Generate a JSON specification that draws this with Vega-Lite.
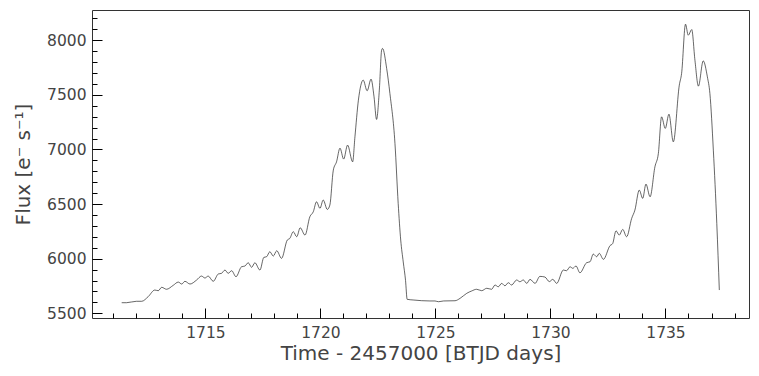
{
  "$schema": "https://vega.github.io/schema/vega-lite/v6.json",
  "width": 657,
  "height": 308,
  "autosize": "none",
  "padding": {"left": 92, "top": 10, "right": 10, "bottom": 58},
  "background": "white",
  "config": {
    "font": "DejaVu Sans",
    "view": {"stroke": "#333333", "strokeWidth": 1}
  },
  "data": {
    "values": [
      {"t": 1711.36, "f": 5597}, {"t": 1711.57, "f": 5597}, {"t": 1712.00, "f": 5610}, {"t": 1712.23, "f": 5610},
      {"t": 1712.51, "f": 5652}, {"t": 1712.80, "f": 5713}, {"t": 1712.95, "f": 5707}, {"t": 1713.10, "f": 5738},
      {"t": 1713.31, "f": 5720}, {"t": 1713.60, "f": 5756}, {"t": 1713.82, "f": 5786}, {"t": 1713.97, "f": 5768},
      {"t": 1714.11, "f": 5793}, {"t": 1714.33, "f": 5768}, {"t": 1714.62, "f": 5805}, {"t": 1714.83, "f": 5841},
      {"t": 1714.98, "f": 5823}, {"t": 1715.12, "f": 5841}, {"t": 1715.34, "f": 5793}, {"t": 1715.56, "f": 5860},
      {"t": 1715.70, "f": 5866}, {"t": 1715.85, "f": 5896}, {"t": 1715.99, "f": 5866}, {"t": 1716.14, "f": 5890},
      {"t": 1716.33, "f": 5835}, {"t": 1716.57, "f": 5926}, {"t": 1716.72, "f": 5933}, {"t": 1716.86, "f": 5963},
      {"t": 1717.01, "f": 5921}, {"t": 1717.15, "f": 5963}, {"t": 1717.37, "f": 5896}, {"t": 1717.54, "f": 6012},
      {"t": 1717.66, "f": 6018}, {"t": 1717.80, "f": 6064}, {"t": 1717.95, "f": 6024}, {"t": 1718.10, "f": 6073},
      {"t": 1718.31, "f": 6003}, {"t": 1718.56, "f": 6171}, {"t": 1718.67, "f": 6186}, {"t": 1718.82, "f": 6247},
      {"t": 1718.97, "f": 6201}, {"t": 1719.12, "f": 6283}, {"t": 1719.33, "f": 6216}, {"t": 1719.54, "f": 6384},
      {"t": 1719.69, "f": 6430}, {"t": 1719.83, "f": 6521}, {"t": 1719.98, "f": 6461}, {"t": 1720.12, "f": 6537},
      {"t": 1720.30, "f": 6451}, {"t": 1720.41, "f": 6491}, {"t": 1720.56, "f": 6811}, {"t": 1720.70, "f": 6887},
      {"t": 1720.85, "f": 7012}, {"t": 1721.01, "f": 6912}, {"t": 1721.18, "f": 7040}, {"t": 1721.40, "f": 6887},
      {"t": 1721.50, "f": 7116}, {"t": 1721.65, "f": 7451}, {"t": 1721.86, "f": 7635}, {"t": 1722.03, "f": 7537},
      {"t": 1722.20, "f": 7644}, {"t": 1722.33, "f": 7482}, {"t": 1722.44, "f": 7275}, {"t": 1722.56, "f": 7543},
      {"t": 1722.66, "f": 7909}, {"t": 1722.70, "f": 7925}, {"t": 1722.88, "f": 7741}, {"t": 1723.02, "f": 7513},
      {"t": 1723.24, "f": 7055}, {"t": 1723.38, "f": 6506}, {"t": 1723.49, "f": 6171}, {"t": 1723.60, "f": 5970},
      {"t": 1723.70, "f": 5800}, {"t": 1723.77, "f": 5628}, {"t": 1724.03, "f": 5622}, {"t": 1724.76, "f": 5613},
      {"t": 1724.98, "f": 5613}, {"t": 1725.13, "f": 5606}, {"t": 1725.35, "f": 5613}, {"t": 1725.85, "f": 5615},
      {"t": 1726.07, "f": 5637}, {"t": 1726.36, "f": 5683}, {"t": 1726.57, "f": 5704}, {"t": 1726.79, "f": 5720},
      {"t": 1727.01, "f": 5707}, {"t": 1727.23, "f": 5729}, {"t": 1727.44, "f": 5720}, {"t": 1727.59, "f": 5759},
      {"t": 1727.73, "f": 5743}, {"t": 1727.88, "f": 5774}, {"t": 1728.02, "f": 5752}, {"t": 1728.17, "f": 5780},
      {"t": 1728.31, "f": 5759}, {"t": 1728.53, "f": 5805}, {"t": 1728.67, "f": 5789}, {"t": 1728.82, "f": 5805},
      {"t": 1728.97, "f": 5774}, {"t": 1729.11, "f": 5811}, {"t": 1729.33, "f": 5774}, {"t": 1729.54, "f": 5838},
      {"t": 1729.76, "f": 5832}, {"t": 1729.95, "f": 5790}, {"t": 1730.10, "f": 5811}, {"t": 1730.27, "f": 5774},
      {"t": 1730.56, "f": 5896}, {"t": 1730.70, "f": 5890}, {"t": 1730.85, "f": 5926}, {"t": 1730.97, "f": 5912},
      {"t": 1731.11, "f": 5933}, {"t": 1731.28, "f": 5871}, {"t": 1731.57, "f": 5963}, {"t": 1731.72, "f": 5972},
      {"t": 1731.86, "f": 6042}, {"t": 1732.01, "f": 6018}, {"t": 1732.12, "f": 6049}, {"t": 1732.30, "f": 5994},
      {"t": 1732.59, "f": 6120}, {"t": 1732.70, "f": 6137}, {"t": 1732.85, "f": 6255}, {"t": 1732.99, "f": 6216},
      {"t": 1733.14, "f": 6268}, {"t": 1733.31, "f": 6201}, {"t": 1733.53, "f": 6369}, {"t": 1733.67, "f": 6445},
      {"t": 1733.86, "f": 6628}, {"t": 1734.01, "f": 6552}, {"t": 1734.15, "f": 6683}, {"t": 1734.33, "f": 6567},
      {"t": 1734.54, "f": 6841}, {"t": 1734.69, "f": 6964}, {"t": 1734.83, "f": 7299}, {"t": 1734.99, "f": 7193},
      {"t": 1735.15, "f": 7323}, {"t": 1735.34, "f": 7070}, {"t": 1735.60, "f": 7589}, {"t": 1735.70, "f": 7696},
      {"t": 1735.87, "f": 8147}, {"t": 1735.99, "f": 8046}, {"t": 1736.14, "f": 8098}, {"t": 1736.28, "f": 7817},
      {"t": 1736.43, "f": 7580}, {"t": 1736.64, "f": 7811}, {"t": 1736.82, "f": 7665}, {"t": 1736.93, "f": 7513},
      {"t": 1737.08, "f": 6994}, {"t": 1737.23, "f": 6323}, {"t": 1737.34, "f": 5713}
    ]
  },
  "resolve": {"axis": {"x": "independent", "y": "independent"}},
  "layer": [
    {
      "mark": {"type": "line", "color": "black", "opacity": 0, "strokeWidth": 0.6},
      "encoding": {
        "x": {
          "field": "t",
          "type": "quantitative",
          "scale": {"domain": [1710.07, 1738.63], "nice": false, "zero": false},
          "axis": {
            "orient": "bottom",
            "title": null,
            "labels": false,
            "values": [1711,1712,1713,1714,1716,1717,1718,1719,1721,1722,1723,1724,1726,1727,1728,1729,1731,1732,1733,1734,1736,1737,1738],
            "grid": false,
            "domain": false,
            "tickColor": "black",
            "tickSize": 5,
            "offset": -5
          }
        },
        "y": {
          "field": "f",
          "type": "quantitative",
          "scale": {"domain": [5457, 8277], "nice": false, "zero": false},
          "axis": {
            "orient": "left",
            "title": null,
            "labels": false,
            "values": [5600,5700,5800,5900,6100,6200,6300,6400,6600,6700,6800,6900,7100,7200,7300,7400,7600,7700,7800,7900,8100,8200],
            "grid": false,
            "domain": false,
            "tickColor": "black",
            "tickSize": 5,
            "offset": -5
          }
        }
      }
    },
    {
      "mark": {"type": "line", "color": "black", "strokeWidth": 0.6, "interpolate": "monotone"},
      "encoding": {
        "x": {
          "field": "t",
          "type": "quantitative",
          "axis": {
            "orient": "bottom",
            "title": "Time - 2457000 [BTJD days]",
            "values": [1715, 1720, 1725, 1730, 1735],
            "format": "d",
            "grid": false,
            "domain": false,
            "tickColor": "black",
            "tickSize": 10,
            "offset": -10,
            "labelFontSize": 15.5,
            "labelColor": "#444444",
            "labelPadding": 7,
            "titleFontSize": 20,
            "titleFontWeight": "normal",
            "titleColor": "#444444",
            "titlePadding": 3
          }
        },
        "y": {
          "field": "f",
          "type": "quantitative",
          "axis": {
            "orient": "left",
            "title": "Flux [e⁻ s⁻¹]",
            "values": [5500, 6000, 6500, 7000, 7500, 8000],
            "format": "d",
            "grid": false,
            "domain": false,
            "tickColor": "black",
            "tickSize": 10,
            "offset": -10,
            "labelFontSize": 15.5,
            "labelColor": "#444444",
            "labelPadding": 6,
            "titleFontSize": 20,
            "titleFontWeight": "normal",
            "titleColor": "#444444",
            "titlePadding": 13
          }
        }
      }
    }
  ]
}
